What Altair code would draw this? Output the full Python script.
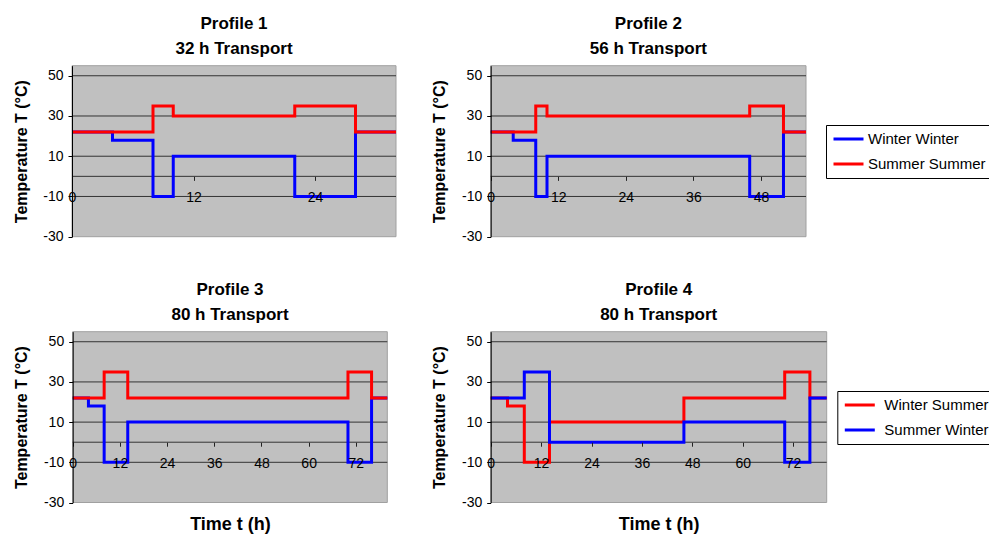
import altair as alt
import pandas as pd

# ---------------- data ----------------
P1_TIME_WW = [0, 4, 8, 10, 22, 28, 32]
P1_TEMP_WW = [22, 18, -10, 10, -10, 22, 22]
P1_TIME_SS = [0, 8, 10, 22, 28, 32]
P1_TEMP_SS = [22, 35, 30, 35, 22, 22]

P2_TIME_WW = [0, 4, 8, 10, 46, 52, 56]
P2_TEMP_WW = [22, 18, -10, 10, -10, 22, 22]
P2_TIME_SS = [0, 8, 10, 46, 52, 56]
P2_TEMP_SS = [22, 35, 30, 35, 22, 22]

P3_TIME_WW = [0, 4, 8, 14, 70, 76, 80]
P3_TEMP_WW = [22, 18, -10, 10, -10, 22, 22]
P3_TIME_SS = [0, 8, 14, 70, 76, 80]
P3_TEMP_SS = [22, 35, 22, 35, 22, 22]

P4_TIME_WS = [0, 4, 8, 14, 46, 70, 76, 80]
P4_TEMP_WS = [22, 18, -10, 10, 22, 35, 22, 22]
P4_TIME_SW = [0, 8, 14, 46, 70, 76, 80]
P4_TEMP_SW = [22, 35, 0, 10, -10, 22, 22]

DURATIONS = [32, 56, 80, 80]
PROFILE_TITLES = ["Profile 1", "Profile 2", "Profile 3", "Profile 4"]
TRANSPORT_TITLES = ["32 h Transport", "56 h Transport", "80 h Transport", "80 h Transport"]
X_TICKS = [
    [0, 12, 24],
    [0, 12, 24, 36, 48],
    [0, 12, 24, 36, 48, 60, 72],
    [0, 12, 24, 36, 48, 60, 72],
]
Y_TICKS = [-30, -10, 10, 30, 50]
GRID_VALUES = [-10, 0, 10, 30, 50]
Y_MIN, Y_MAX = -30, 55

SERIES_SAME = ["Winter Winter", "Summer Summer"]
SERIES_MIXED = ["Winter Summer", "Summer Winter"]
Y_TITLE = "Temperature T (°C)"
X_TITLE = "Time t (h)"

# ---------------- layout / style ----------------
W, H = 981, 527
FONT = "Liberation Sans"
BLUE, RED = "#0000ff", "#ff0000"

X_RANGES = [[64, 388], [482.7, 798], [64.7, 379.3], [482.7, 818.7]]
Y_RANGES = [[228.7, 57.7], [228.7, 57.7], [494.5, 323.7], [494.5, 323.7]]


def panel(i, lines, domain, colors, legend):
    xr, yr, xmax = X_RANGES[i], Y_RANGES[i], DURATIONS[i]
    xs = alt.Scale(domain=[0, xmax], range=xr, nice=False, zero=False)
    ys = alt.Scale(domain=[Y_MIN, Y_MAX], range=yr, nice=False, zero=False)
    cs = alt.Scale(domain=domain, range=colors)
    y_zero = yr[0] + (0 - Y_MIN) * (yr[1] - yr[0]) / (Y_MAX - Y_MIN)

    xkw = dict(
        orient="bottom", offset=y_zero - H, values=X_TICKS[i], domain=False,
        ticks=True, tickSize=4, tickColor="#222", grid=False,
        labelFont=FONT, labelFontSize=14, labelColor="black",
        labelBaseline="middle", labelPadding=17, labelFlush=False,
        labelOverlap=False, labelExpr="'' + datum.value", zindex=1,
    )
    if i >= 2:
        xkw.update(title=X_TITLE, titleY=87, titleBaseline="alphabetic",
                   titleFont=FONT, titleFontSize=18, titleFontWeight="bold",
                   titleColor="black")
    else:
        xkw.update(title=None)
    yaxis = alt.Axis(
        orient="left", offset=-xr[0], values=Y_TICKS, domain=True,
        domainColor="black", ticks=True, tickSize=4, tickColor="black",
        grid=False, labelFont=FONT, labelFontSize=14, labelColor="black",
        labelPadding=5, labelFlush=False, labelOverlap=False,
        labelExpr="'' + datum.value", zindex=1,
        title=Y_TITLE, titleX=-51, titleBaseline="middle", titleFont=FONT,
        titleFontSize=16, titleFontWeight="bold", titleColor="black",
    )
    xaxis = alt.Axis(**xkw)

    bg_df = pd.DataFrame({"x0": [0], "x1": [xmax], "y0": [Y_MIN], "y1": [Y_MAX]})
    bg = alt.Chart(bg_df).mark_rect(
        fill="#c0c0c0", stroke="#a0a0a0", strokeWidth=1
    ).encode(
        x=alt.X("x0:Q", scale=xs, axis=xaxis),
        x2="x1:Q",
        y=alt.Y("y0:Q", scale=ys, axis=yaxis),
        y2="y1:Q",
    )

    grid_df = pd.DataFrame({"g": GRID_VALUES, "x0": 0, "x1": xmax})
    grid = alt.Chart(grid_df).mark_rule(color="#333333", strokeWidth=1).encode(
        x=alt.X("x0:Q", scale=xs, axis=None),
        x2="x1:Q",
        y=alt.Y("g:Q", scale=ys, axis=None),
    )

    layers = [bg, grid]
    for j, (name, times, temps) in enumerate(lines):
        df = pd.DataFrame({"t": times, "v": temps, "series": name,
                           "k": list(range(len(times)))})
        leg = legend if (legend is not None and j == 0) else None
        layers.append(
            alt.Chart(df).mark_line(interpolate="step-after", strokeWidth=3).encode(
                x=alt.X("t:Q", scale=xs, axis=None),
                y=alt.Y("v:Q", scale=ys, axis=None),
                color=alt.Color("series:N", scale=cs, legend=leg),
                order="k:Q",
            )
        )

    t_df = pd.DataFrame({"x": [xmax / 2], "y": [Y_MAX],
                         "a": [PROFILE_TITLES[i]], "b": [TRANSPORT_TITLES[i]]})
    for field, dy in (("a", -36.5), ("b", -11.5)):
        layers.append(
            alt.Chart(t_df).mark_text(
                dy=dy, baseline="alphabetic", align="center", font=FONT,
                fontSize=17, fontWeight="bold", color="black",
            ).encode(
                x=alt.X("x:Q", scale=xs, axis=None),
                y=alt.Y("y:Q", scale=ys, axis=None),
                text=f"{field}:N",
            )
        )
    return layers


def make_legend(x, y, offset):
    return alt.Legend(
        title=None, orient="none", legendX=x, legendY=y,
        symbolType="stroke", symbolSize=900, symbolStrokeWidth=3,
        clipHeight=16, rowPadding=9, padding=6, labelOffset=offset,
        labelFont=FONT, labelFontSize=15, labelColor="black",
        strokeColor="black", fillColor="white", labelLimit=300,
    )


layers = []
layers += panel(0, [(SERIES_SAME[0], P1_TIME_WW, P1_TEMP_WW),
                    (SERIES_SAME[1], P1_TIME_SS, P1_TEMP_SS)],
                SERIES_SAME, [BLUE, RED], None)
layers += panel(1, [(SERIES_SAME[0], P2_TIME_WW, P2_TEMP_WW),
                    (SERIES_SAME[1], P2_TIME_SS, P2_TEMP_SS)],
                SERIES_SAME, [BLUE, RED], make_legend(818, 117, 3))
layers += panel(2, [(SERIES_SAME[0], P3_TIME_WW, P3_TEMP_WW),
                    (SERIES_SAME[1], P3_TIME_SS, P3_TEMP_SS)],
                SERIES_SAME, [BLUE, RED], None)
layers += panel(3, [(SERIES_MIXED[0], P4_TIME_WS, P4_TEMP_WS),
                    (SERIES_MIXED[1], P4_TIME_SW, P4_TEMP_SW)],
                SERIES_MIXED, [RED, BLUE], make_legend(829.3, 383, 8))

chart = (
    alt.layer(*layers)
    .resolve_scale(x="independent", y="independent", color="independent")
    .resolve_axis(x="independent", y="independent")
    .resolve_legend(color="independent")
    .properties(width=W, height=H, autosize=alt.AutoSizeParams(type="none"),
                padding=0, background="white")
    .configure_view(strokeWidth=0, stroke=None)
)

chart.save("out.html", embed_options={"renderer": "svg", "actions": False})
